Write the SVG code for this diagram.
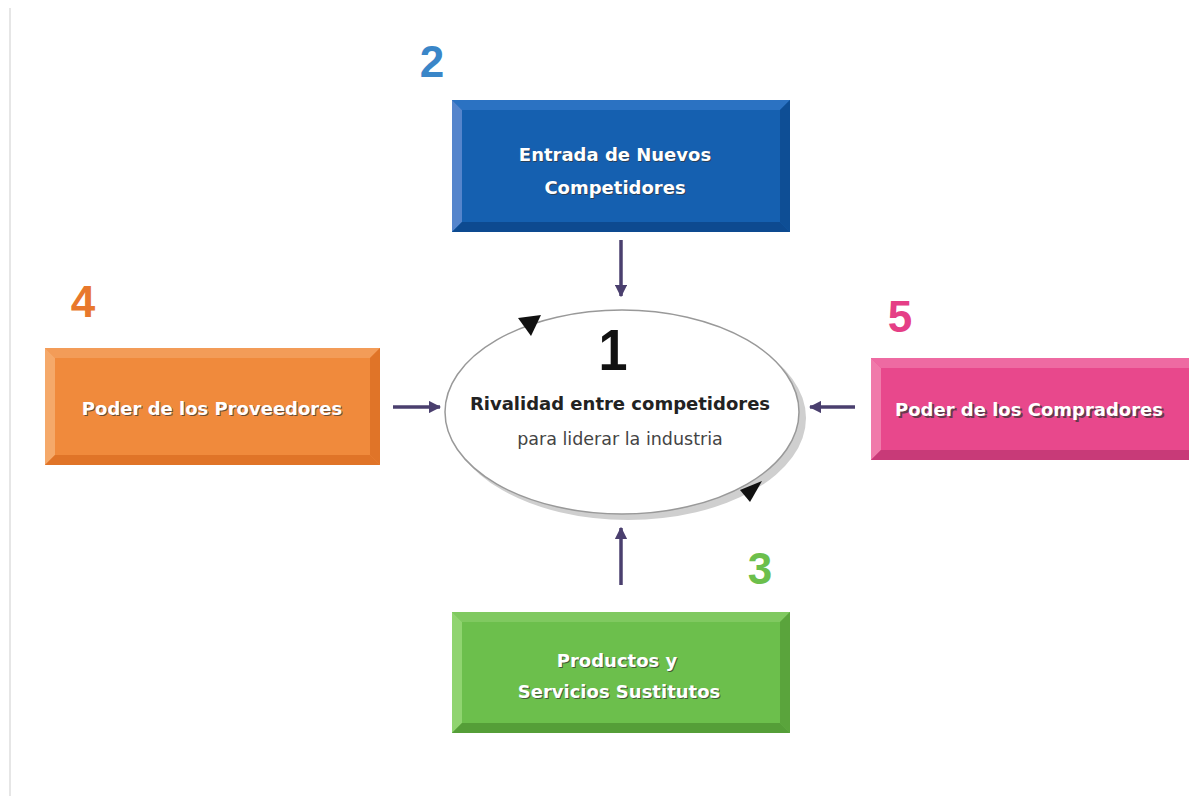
<svg xmlns="http://www.w3.org/2000/svg" width="1189" height="796" viewBox="0 0 1189 796">
<defs>
<style>
.bt{font-family:"DejaVu Sans","Liberation Sans",sans-serif;font-weight:bold;font-size:18px;fill:#fff;text-anchor:middle}
.sh{fill:#333;opacity:0.7}
.num{font-family:"Liberation Sans",Arial,sans-serif;font-weight:bold;font-size:44px;text-anchor:middle}
.con{stroke:#4a3f6e;stroke-width:3.5;fill:none}
</style>
<marker id="ah" viewBox="0 0 10 10" refX="9" refY="5" markerWidth="3.5" markerHeight="3.5" orient="auto">
<path d="M0,0 L10,5 L0,10 z" fill="#4a3f6e"/>
</marker>
</defs>
<rect width="1189" height="796" fill="#fff"/>
<line x1="10" y1="8" x2="10" y2="796" stroke="#e6e6e6" stroke-width="2"/>

<g id="n2">
<rect x="452" y="100" width="338" height="132" fill="#1560b0"/>
<polygon points="452,100 790,100 780,110 462,110" fill="#2b72c2"/>
<polygon points="452,100 462,110 462,222 452,232" fill="#5585cc"/>
<polygon points="790,100 790,232 780,222 780,110" fill="#0e4e95"/>
<polygon points="452,232 462,222 780,222 790,232" fill="#0d4a90"/>
<text class="bt sh" x="616" y="162">Entrada de Nuevos</text>
<text class="bt" x="615" y="161">Entrada de Nuevos</text>
<text class="bt sh" x="616" y="195">Competidores</text>
<text class="bt" x="615" y="194">Competidores</text>
<text class="num" x="432" y="77" fill="#3a86c8">2</text>
</g>

<g id="n4">
<rect x="45" y="348" width="335" height="117" fill="#f08a3c"/>
<polygon points="45,348 380,348 370,358 55,358" fill="#f39c58"/>
<polygon points="45,348 55,358 55,455 45,465" fill="#f5a96a"/>
<polygon points="380,348 380,465 370,455 370,358" fill="#e07428"/>
<polygon points="45,465 55,455 370,455 380,465" fill="#e07428"/>
<text class="bt sh" x="213" y="416">Poder de los Proveedores</text>
<text class="bt" x="212" y="415">Poder de los Proveedores</text>
<text class="num" x="83" y="317" fill="#e8782c">4</text>
</g>

<g id="n5">
<rect x="871" y="358" width="318" height="102" fill="#e8488c"/>
<polygon points="871,358 1189,358 1189,368 881,368" fill="#ee6aa2"/>
<polygon points="871,358 881,368 881,450 871,460" fill="#f07aaa"/>
<polygon points="871,460 881,450 1189,450 1189,460" fill="#c83a78"/>
<text class="bt sh" x="1031" y="418">Poder de los Compradores</text>
<text class="bt" x="1029" y="416">Poder de los Compradores</text>
<text class="num" x="900" y="332" fill="#e53e86">5</text>
</g>

<g id="n3">
<rect x="452" y="612" width="338" height="121" fill="#6cbf4c"/>
<polygon points="452,612 790,612 780,622 462,622" fill="#80c960"/>
<polygon points="452,612 462,622 462,723 452,733" fill="#90d470"/>
<polygon points="790,612 790,733 780,723 780,622" fill="#5aa43c"/>
<polygon points="452,733 462,723 780,723 790,733" fill="#559e38"/>
<text class="bt sh" x="618" y="668">Productos y</text>
<text class="bt" x="617" y="667">Productos y</text>
<text class="bt sh" x="620" y="699">Servicios Sustitutos</text>
<text class="bt" x="619" y="698">Servicios Sustitutos</text>
<text class="num" x="760" y="584" fill="#6cbf4c">3</text>
</g>

<g id="n1">
<ellipse cx="628" cy="418" rx="178" ry="102" fill="#cfcfcf"/>
<ellipse cx="622" cy="412" rx="177" ry="102" fill="#fff" stroke="#999" stroke-width="1.5"/>
<text x="613" y="370" font-family="Liberation Sans,Arial,sans-serif" font-weight="bold" font-size="58" fill="#111" text-anchor="middle" transform="translate(613 0) scale(0.9 1) translate(-613 0)">1</text>
<text x="620" y="410" font-family="DejaVu Sans,Liberation Sans,sans-serif" font-weight="bold" font-size="18" fill="#222" text-anchor="middle">Rivalidad entre competidores</text>
<text x="620" y="445" font-family="DejaVu Sans,Liberation Sans,sans-serif" font-size="17.5" fill="#444" text-anchor="middle">para liderar la industria</text>
<polygon points="541,315 518,318 531,336" fill="#111"/>
<polygon points="740,490 762,481 750,502" fill="#111"/>
</g>

<g id="connectors">
<line class="con" x1="621" y1="240" x2="621" y2="296" marker-end="url(#ah)"/>
<line class="con" x1="393" y1="407" x2="440" y2="407" marker-end="url(#ah)"/>
<line class="con" x1="855" y1="407" x2="810" y2="407" marker-end="url(#ah)"/>
<line class="con" x1="621" y1="585" x2="621" y2="528" marker-end="url(#ah)"/>
</g>
</svg>
